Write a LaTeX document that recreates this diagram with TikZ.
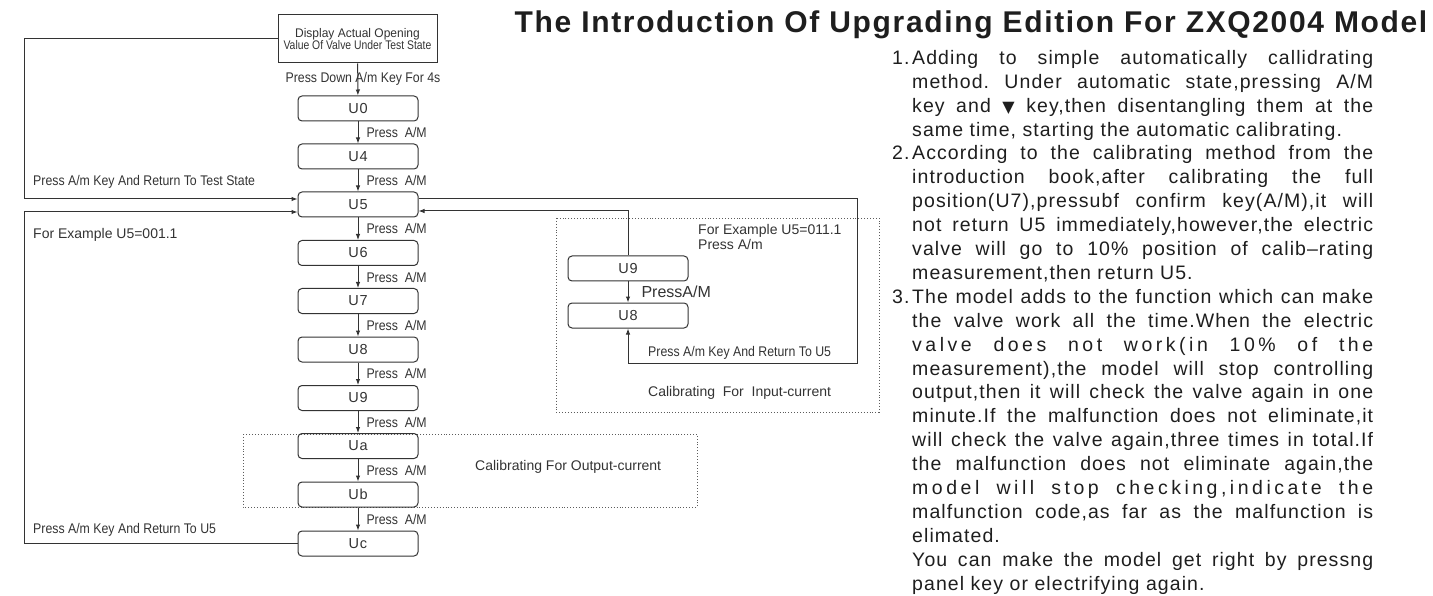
\documentclass[tikz,border=0pt]{standalone}
\usepackage{fontspec}
\setmainfont{Liberation Sans}
\newfontfamily\narrowfont[FakeStretch=0.88]{Liberation Sans}
\newfontfamily\widefont[FakeStretch=0.96]{Liberation Sans}
\newfontfamily\squeezefont[FakeStretch=0.83]{Liberation Sans}
\newfontfamily\trackfont[LetterSpace=5.5]{Liberation Sans}
\newfontfamily\symfont{DejaVu Sans}
\usetikzlibrary{arrows.meta,positioning}
\definecolor{ink}{HTML}{333333}
\definecolor{textink}{HTML}{1E1E1E}
\frenchspacing
% lines of the notes
\newcommand{\numline}[2]{\makebox[20pt][l]{#1}\makebox[461pt][s]{#2}}
\newcommand{\fline}[1]{\hspace*{20pt}\makebox[461pt][s]{#1}}
\newcommand{\lline}[1]{\hspace*{20pt}#1}

\begin{document}
\begin{tikzpicture}[x=1pt,y=-1pt]
\tikzset{
    ubox/.style={draw=ink,line width=1pt,rounded corners=4pt,minimum width=120pt,minimum height=25pt,inner sep=0pt,
                 font=\trackfont\fontsize{14.5}{16}\selectfont,text=ink},
    topbox/.style={draw=ink,line width=1pt,minimum width=159pt,minimum height=48pt,inner sep=0pt,align=center,text=ink},
    edge/.style={-{Latex[length=6pt,width=4.5pt]},draw=ink,line width=1pt},
    lab/.style={font=\narrowfont\fontsize{14}{16}\selectfont,text=ink,inner sep=0pt},
    note/.style={font=\fontsize{14}{16}\selectfont,text=ink,inner sep=0pt},
    frame/.style={draw=ink!80,dotted,line width=0.9pt}
}
\useasboundingbox (0,0) rectangle (1433,596);
  % frames
\draw[frame] (243,434) rectangle (697,507);
\draw[frame] (556,218) rectangle (879,412);
  % vertices
\node[topbox] (display) at (357.5,39) {{\widefont\fontsize{12.5}{14}\selectfont Display Actual Opening}\\
  {\squeezefont\fontsize{12.5}{14}\selectfont Value Of Valve Under Test State}};
\node[ubox] (U0) at (358,108.5) {U0};
\node[ubox] (U4) at (358,156.5) {U4};
\node[ubox] (U5) at (358,204.5) {U5};
\node[ubox] (U6) at (358,253) {U6};
\node[ubox] (U7) at (358,301) {U7};
\node[ubox] (U8) at (358,349.5) {U8};
\node[ubox] (U9) at (358,398) {U9};
\node[ubox] (Ua) at (358,446) {Ua};
\node[ubox] (Ub) at (358,494.5) {Ub};
\node[ubox] (Uc) at (358,543.5) {Uc};
\node[ubox] (in9) at (628,268.5) {U9};
\node[ubox] (in8) at (628,315.5) {U8};
  % texts
\node[lab] (hold) at (363,79) {Press Down A/m Key For 4s};
\node[lab,anchor=west] (back1) at (33,182) {Press A/m Key And Return To Test State};
\node[note,anchor=west] (ex1) at (33,235) {For Example U5=001.1};
\node[lab,anchor=west] (back2) at (33,530) {Press A/m Key And Return To U5};
\node[note,anchor=west] (ex2) at (698,231) {For Example U5=011.1};
\node[note,anchor=west] (ex2b) at (698,244.5) {Press A/m};
\node[lab,anchor=west] (back3) at (648,353) {Press A/m Key And Return To U5};
\node[note,anchor=west] (calin) at (648,393) {Calibrating\ \ For\ \ Input-current};
\node[note,anchor=west] (calout) at (475,467) {Calibrating For Output-current};
\node[anchor=base,inner sep=0pt,font=\trackfont\bfseries\fontsize{30}{34}\selectfont,text=textink] (title)
  at (971,32.5) {The Introduction Of Upgrading Edition For ZXQ2004 Model};
\node[anchor=north west,inner sep=0pt,align=left,font=\trackfont\fontsize{19.5}{23.9}\selectfont,text=textink] (intro)
  at (892,50) {%
\numline{1.}{Adding to simple automatically callidrating}\\
\fline{method. Under automatic state,pressing A/M}\\
\fline{key and {\symfont\fontsize{16}{20}\selectfont ▼} key,then disentangling them at the}\\
\lline{same time, starting the automatic calibrating.}\\
\numline{2.}{According to the calibrating method from the}\\
\fline{introduction book,after calibrating the full}\\
\fline{position(U7),pressubf confirm key(A/M),it will}\\
\fline{not return U5 immediately,however,the electric}\\
\fline{valve will go to 10\% position of calib–rating}\\
\lline{measurement,then return U5.}\\
\numline{3.}{The model adds to the function which can make}\\
\fline{the valve work all the time.When the electric}\\
\fline{\addfontfeature{LetterSpace=18}valve does not work(in 10\% of the}\\
\fline{measurement),the model will stop controlling}\\
\fline{output,then it will check the valve again in one}\\
\fline{minute.If the malfunction does not eliminate,it}\\
\fline{will check the valve again,three times in total.If}\\
\fline{the malfunction does not eliminate again,the}\\
\fline{\addfontfeature{LetterSpace=18}model will stop checking,indicate the}\\
\fline{malfunction code,as far as the malfunction is}\\
\lline{elimated.}\\
\fline{You can make the model get right by pressng}\\
\lline{panel key or electrifying again.}};
  % edges
\draw[edge] (display) -- (U0);
\draw[edge] (U0) -- (U4) node[midway,right=8pt,lab] {Press\ \ A/M};
\draw[edge] (U4) -- (U5) node[midway,right=8pt,lab] {Press\ \ A/M};
\draw[edge] (U5) -- (U6) node[midway,right=8pt,lab] {Press\ \ A/M};
\draw[edge] (U6) -- (U7) node[midway,right=8pt,lab] {Press\ \ A/M};
\draw[edge] (U7) -- (U8) node[midway,right=8pt,lab] {Press\ \ A/M};
\draw[edge] (U8) -- (U9) node[midway,right=8pt,lab] {Press\ \ A/M};
\draw[edge] (U9) -- (Ua) node[midway,right=8pt,lab] {Press\ \ A/M};
\draw[edge] (Ua) -- (Ub) node[midway,right=8pt,lab] {Press\ \ A/M};
\draw[edge] (Ub) -- (Uc) node[midway,right=8pt,lab] {Press\ \ A/M};
\draw[edge] (in9) -- (in8) node[midway,right=13pt,note,font=\fontsize{16}{18}\selectfont] {PressA/M};
\draw[edge] (display.west) -| (24,199) -- ([yshift=5.5pt]U5.west);
\draw[edge] (Uc.west) -| (24,212) -- ([yshift=-7.5pt]U5.west);
\draw[edge] ([yshift=5.5pt]U5.east) -- (857,199) -- (857,363) -| (in8.south);
\draw[edge] (in9.north) |- ([yshift=-6.5pt]U5.east);
\end{tikzpicture}
\end{document}
